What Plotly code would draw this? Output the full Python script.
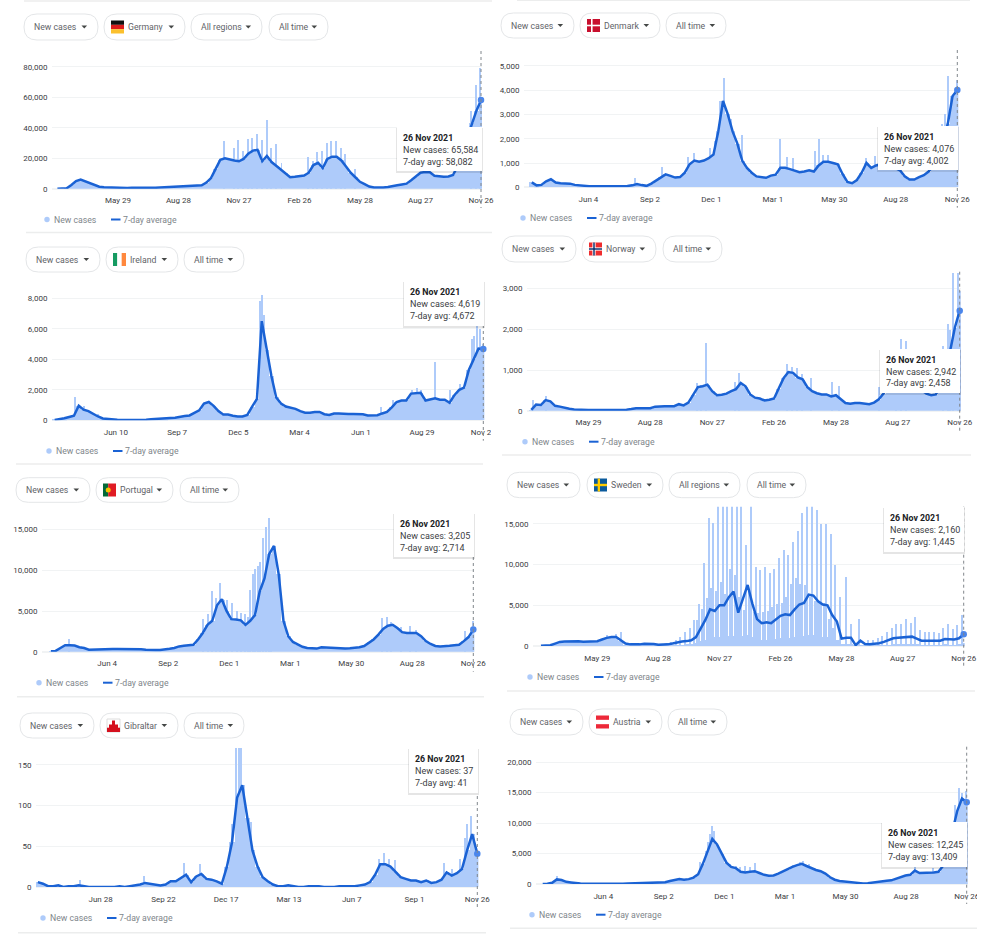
import pandas as pd
import plotly.graph_objects as go

W, H = 1000, 942
END = pd.Timestamp("2021-11-26")

BAR = "#aecbfa"
LINE = "#1a62d4"
DOT = "#4a86ec"
GRID = "#f1f3f4"
PILL = "#e4e6e8"
GRAY = "#5f6368"
DARK = "#3c4043"
FONT = "Roboto"

# ---- data ----
# weekly 7-day averages ending 26 Nov 2021, *_base = weekly level of the bars,
# spikes = single days sticking out, given as days before 26 Nov 2021

de_avg = [0, 0, 300, 2500, 5000, 6000, 4800, 3300, 2200, 1300, 900, 750, 600, 500, 400, 500, 650, 550, 400, 400,
          450, 600, 750, 900, 1100, 1300, 1300, 1200, 1400, 1600, 1900, 2200, 4000, 7000, 13000, 19000, 20000, 19000,
          18500, 18000, 19500, 23000, 25000, 25500, 18000, 21500, 17500, 15000, 12500, 10000, 7500, 7800, 8200, 8600,
          10500, 15500, 17000, 13500, 19500, 21000, 21000, 18500, 14500, 10500, 7500, 4500, 3000, 1400, 800, 700, 800,
          1100, 1500, 2200, 2800, 3300, 5500, 8000, 10500, 11000, 10800, 8500, 8000, 7800, 8000, 9000, 15000, 24000,
          34000, 43000, 51000, 58082]
de_spike_days = [386, 372, 365, 358, 351, 344, 337, 330, 322, 316, 309, 300, 260, 253, 246, 239, 232, 225, 218, 211,
                 204, 190, 15, 8, 1]
de_spike_vals = [31000, 27000, 32000, 25000, 32500, 33500, 36000, 32000, 45000, 26500, 29000, 17000, 21000, 18000,
                 24000, 25000, 30000, 31000, 31500, 27000, 23000, 13000, 51000, 68000, 79000]
de_ticks = ["2020-05-29", "2020-08-28", "2020-11-27", "2021-02-26", "2021-05-28", "2021-08-27", "2021-11-26"]
de_labels = ["May 29", "Aug 28", "Nov 27", "Feb 26", "May 28", "Aug 27", "Nov 26"]

dk_avg = [200, 80, 100, 250, 330, 200, 170, 170, 150, 100, 70, 50, 40, 40, 40, 30, 20, 20, 30, 40, 50, 80, 130, 90, 60,
          150, 280, 420, 530, 470, 400, 420, 600, 950, 1100, 1050, 1100, 1200, 1350, 2300, 3550, 3000, 2300, 1800, 1100,
          800, 600, 450, 430, 390, 480, 520, 800, 800, 750, 700, 620, 650, 700, 650, 900, 1050, 1050, 1000, 950, 550,
          220, 170, 300, 600, 1000, 800, 900, 950, 1050, 1000, 800, 700, 450, 320, 320, 420, 500, 650, 900, 1300, 1900,
          2600, 3750, 4002]
dk_spike_days = [342, 348, 355, 331, 315, 260, 249, 241, 209, 203, 197, 189, 134, 120, 14, 1, 18, 22, 433, 472, 394,
                 385, 362]
dk_spike_vals = [4500, 3550, 1900, 2800, 2150, 2000, 1250, 1200, 1500, 2000, 1350, 1350, 1200, 1300, 4600, 4400, 3000,
                 2600, 820, 370, 1250, 1400, 1600]
dk_ticks = ["2020-06-04", "2020-09-02", "2020-12-01", "2021-03-01", "2021-05-30", "2021-08-28", "2021-11-26"]
dk_labels = ["Jun 4", "Sep 2", "Dec 1", "Mar 1", "May 30", "Aug 28", "Nov 26"]

ie_avg = [20, 60, 130, 220, 300, 950, 700, 600, 400, 250, 120, 80, 50, 30, 20, 20, 20, 20, 30, 40, 70, 100, 110, 120,
          150, 170, 250, 280, 320, 470, 650, 1100, 1200, 950, 600, 380, 380, 300, 250, 250, 350, 900, 1400, 6500, 4600,
          2900, 1500, 1100, 900, 850, 750, 600, 500, 500, 550, 550, 400, 350, 450, 450, 420, 420, 420, 420, 400, 320,
          320, 330, 450, 550, 850, 1200, 1300, 1300, 1750, 1800, 1800, 1300, 1400, 1450, 1350, 1350, 1150, 1650, 2000,
          2150, 3300, 4000, 4700, 4672]
ie_spike_days = [593, 581, 560, 321, 324, 319, 148, 131, 104, 97, 90, 70, 48, 34, 17, 14, 9, 5, 1]
ie_spike_vals = [1500, 950, 400, 8200, 7800, 6900, 850, 1350, 2000, 2100, 2000, 3800, 2000, 2400, 5300, 5500, 6200,
                 6000, 5000]
ie_ticks = ["2020-06-10", "2020-09-07", "2020-12-05", "2021-03-04", "2021-06-01", "2021-08-29", "2021-11-26"]
ie_labels = ["Jun 10", "Sep 7", "Dec 5", "Mar 4", "Jun 1", "Aug 29", "Nov 26"]

pt_avg = [50, 100, 450, 800, 780, 750, 550, 450, 250, 280, 250, 250, 280, 320, 340, 340, 340, 340, 370, 300, 250, 200,
          200, 220, 250, 350, 450, 650, 720, 780, 850, 1500, 2300, 3300, 3800, 5700, 6450, 5000, 4000, 3950, 3850, 3300,
          3800, 4500, 7400, 9000, 12000, 13000, 9500, 3800, 1900, 1200, 850, 600, 450, 400, 380, 550, 500, 450, 400, 350,
          380, 420, 470, 550, 700, 1150, 1500, 2100, 2800, 3200, 3300, 2900, 2400, 2300, 2300, 2300, 1900, 1300, 950,
          700, 650, 650, 720, 800, 850, 1300, 1800, 2714]
pt_spike_days = [386, 374, 364, 356, 349, 342, 337, 329, 322, 317, 310, 306, 302, 298, 135, 127, 121, 106, 93, 84, 596,
                 12, 1, 380, 368, 333, 325, 314, 392, 398]
pt_spike_vals = [7500, 8400, 6400, 6000, 5000, 4700, 4600, 7600, 10100, 10500, 14000, 15300, 16400, 11700, 4100, 4300,
                 3600, 3000, 3100, 2700, 1500, 2600, 3800, 6600, 6300, 4300, 9500, 11000, 4600, 4000]

gi_avg = [6, 4, 1, 1, 2, 0, 1, 1, 2, 1, 0, 0, 0, 0, 0, 0, 1, 0, 1, 2, 3, 5, 4, 3, 2, 3, 7, 7, 11, 15, 6, 13, 16, 10, 9,
          7, 4, 25, 55, 110, 125, 85, 45, 25, 12, 7, 3, 1, 1, 2, 1, 0, 0, 1, 1, 1, 0, 0, 0, 1, 1, 1, 1, 2, 3, 6, 15, 28,
          28, 25, 18, 12, 10, 8, 8, 6, 8, 5, 6, 9, 18, 14, 17, 22, 45, 65, 41]
gi_spike_days = [330, 324, 327, 336, 316, 310, 402, 380, 457, 544, 128, 135, 121, 113, 46, 35, 14, 9, 17, 5, 24]
gi_spike_vals = [200, 200, 200, 77, 85, 80, 30, 28, 13, 8, 42, 35, 35, 33, 29, 22, 78, 87, 60, 55, 35]
gi_ticks = ["2020-06-28", "2020-09-22", "2020-12-17", "2021-03-13", "2021-06-07", "2021-09-01", "2021-11-26"]
gi_labels = ["Jun 28", "Sep 22", "Dec 17", "Mar 13", "Jun 7", "Sep 1", "Nov 26"]

no_avg = [20, 150, 140, 260, 230, 120, 100, 70, 50, 30, 20, 15, 15, 15, 15, 15, 15, 15, 15, 15, 25, 40, 60, 60, 60, 60,
          100, 110, 110, 110, 110, 160, 130, 200, 400, 580, 600, 640, 480, 380, 390, 420, 480, 530, 680, 600, 400, 320,
          300, 250, 270, 300, 550, 800, 950, 930, 820, 770, 580, 480, 430, 400, 400, 350, 380, 280, 190, 170, 190, 190,
          170, 160, 200, 280, 420, 600, 800, 1000, 1050, 1000, 850, 650, 500, 420, 380, 400, 600, 900, 1500, 2050, 2458]
no_spike_days = [627, 609, 373, 387, 380, 325, 331, 254, 246, 239, 232, 218, 188, 178, 119, 86, 79, 93, 24, 17, 10, 3,
                 14, 0]
no_spike_vals = [280, 380, 1680, 700, 650, 930, 720, 1150, 1080, 1050, 920, 820, 720, 620, 600, 1780, 1710, 1500, 1600,
                 2130, 3400, 3400, 2000, 2942]

se_avg = [30, 60, 100, 300, 500, 550, 570, 600, 580, 520, 560, 530, 580, 800, 1000, 1100, 1100, 700, 300, 200, 170, 200,
          280, 300, 250, 150, 150, 200, 300, 450, 550, 600, 700, 1100, 2200, 3200, 4500, 4300, 5000, 5000, 6000, 6700,
          4100, 5900, 7500, 5200, 3300, 2800, 2900, 2800, 3300, 3700, 3900, 3800, 4500, 5100, 5300, 6300, 6200, 5500,
          5100, 5000, 3800, 3000, 900, 1000, 1000, 100, 650, 250, 230, 250, 350, 500, 750, 950, 1000, 1050, 1050, 1150,
          900, 650, 650, 650, 650, 650, 850, 800, 800, 950, 1445]
# Sweden reported in weekly batches, so the bars are much lower than the average most days
se_base = [30, 60, 100, 300, 500, 550, 570, 600, 580, 520, 560, 530, 580, 800, 1000, 1100, 1100, 700, 150, 80, 60, 80,
           100, 100, 80, 50, 50, 60, 100, 150, 200, 250, 300, 400, 600, 800, 1000, 1100, 1200, 1200, 1300, 1300, 1100,
           1300, 1400, 1200, 900, 800, 800, 800, 900, 1000, 1000, 1000, 1100, 1200, 1300, 1400, 1400, 1300, 1200, 1200,
           1000, 800, 300, 300, 300, 50, 150, 80, 70, 80, 100, 150, 200, 250, 250, 300, 300, 300, 250, 200, 200, 200,
           200, 200, 250, 200, 200, 250, 400]
se_spike_days = [387, 380, 373, 366, 359, 352, 345, 338, 331, 324, 317, 310, 303, 296, 289, 282, 275, 268, 261, 254,
                 247, 240, 233, 226, 219, 212, 205, 198, 191, 184, 175, 168, 156, 142, 135, 128, 121, 114, 107, 100, 93,
                 86, 79, 72, 65, 58, 51, 44, 37, 30, 23, 16, 9, 2, 394, 401, 408, 415, 422, 429, 436, 532, 525, 518, 511,
                 397, 390, 383, 376, 369, 362, 355, 348, 341, 334, 327, 320, 313, 306, 299, 292, 285, 278, 271, 264, 257,
                 250, 243, 236, 229, 222, 215, 208, 201, 194]
se_spike_vals = [10200, 15800, 15100, 19000, 19000, 19000, 19000, 19000, 19000, 12500, 19000, 9800, 9400, 9700, 9000,
                 9500, 10900, 11800, 11200, 12800, 14200, 16400, 19000, 19000, 16700, 15000, 15000, 13800, 10000, 6000,
                 8500, 2700, 3400, 800, 800, 1000, 1300, 1800, 2200, 2800, 2800, 3400, 2900, 3600, 2000, 1700, 1800,
                 1700, 1600, 2300, 2700, 2100, 2600, 3800, 5200, 3200, 2200, 1800, 1200, 800, 500, 1400, 1300, 1500, 1700,
                 3200, 4600, 5900, 7200, 6800, 7900, 6400, 9500, 8800, 6000, 4500, 7000, 4200, 4100, 4200, 4300, 4800,
                 5200, 5300, 6000, 7600, 8400, 7600, 7500, 6000, 5600, 5500, 5300, 3400, 2300]

at_avg = [0, 30, 200, 750, 650, 350, 250, 100, 70, 50, 40, 50, 40, 40, 40, 40, 40, 60, 70, 90, 100, 100, 100, 120, 220,
          280, 280, 500, 700, 800, 700, 800, 1050, 1600, 3300, 5500, 7400, 6500, 5000, 3500, 2800, 2600, 2000, 1900, 2000,
          2100, 1800, 1500, 1350, 1400, 1700, 2100, 2400, 2800, 3100, 3300, 2950, 2600, 2300, 2100, 1700, 1100, 700, 500,
          400, 300, 200, 130, 100, 130, 250, 400, 450, 550, 600, 900, 1150, 1400, 1500, 2200, 1800, 1800, 1900, 1900, 2000,
          3000, 5500, 9000, 12000, 14000, 13409]
at_spike_days = [609, 396, 385, 378, 376, 381, 367, 352, 343, 337, 329, 322, 315, 258, 248, 243, 235, 77, 50, 12, 7, 1,
                 17]
at_spike_vals = [1300, 3700, 7000, 9600, 8800, 8200, 5500, 3300, 3000, 2900, 3000, 2900, 3500, 3200, 3600, 3900, 3300,
                 2800, 2600, 15800, 15000, 15300, 13000]


# ---- helpers, everything placed in pixels of the 1000x942 page ----
def px(x):
    return x / W


def py(y):
    return 1 - y / H


shapes = []
annotations = []


def rect(x0, y0, x1, y1, fill, line=None, opacity=1):
    shapes.append(dict(type="rect", xref="paper", yref="paper", x0=px(x0), x1=px(x1), y0=py(y0), y1=py(y1),
                       fillcolor=fill, opacity=opacity, line=dict(width=1 if line else 0, color=line or fill)))


def hline(x0, x1, y, color, width=1):
    shapes.append(dict(type="line", xref="paper", yref="paper", x0=px(x0), x1=px(x1), y0=py(y), y1=py(y),
                       line=dict(color=color, width=width)))


def text(x, y, s, size=8.7, color=GRAY, anchor="left"):
    annotations.append(dict(xref="paper", yref="paper", x=px(x), y=py(y), text=s, showarrow=False, xanchor=anchor,
                            yanchor="middle", borderpad=0, font=dict(family=FONT, size=size, color=color)))


def poly(points, fill):
    d = "M" + " L".join(f"{px(x):.5f},{py(y):.5f}" for x, y in points) + " Z"
    shapes.append(dict(type="path", xref="paper", yref="paper", path=d, fillcolor=fill, line=dict(width=0)))


def pill(x0, x1, y0, y1):
    r = (y1 - y0) / 2
    p = lambda x, y: f"{px(x):.5f},{py(y):.5f}"
    d = (f"M{p(x0 + r, y0)} L{p(x1 - r, y0)} Q{p(x1, y0)} {p(x1, y0 + r)} Q{p(x1, y1)} {p(x1 - r, y1)} "
         f"L{p(x0 + r, y1)} Q{p(x0, y1)} {p(x0, y0 + r)} Q{p(x0, y0)} {p(x0 + r, y0)} Z")
    shapes.append(dict(type="path", xref="paper", yref="paper", path=d, fillcolor="white",
                       line=dict(color=PILL, width=1)))


def flag(name, x, y):
    s = 13
    if name == "Germany":
        rect(x, y, x + s, y + s / 3, "#111111")
        rect(x, y + s / 3, x + s, y + 2 * s / 3, "#dd1c1c")
        rect(x, y + 2 * s / 3, x + s, y + s, "#fbc02d")
    elif name == "Denmark":
        rect(x, y, x + s, y + s, "#c8102e")
        rect(x + 4, y, x + 5.6, y + s, "white")
        rect(x, y + 5.7, x + s, y + 7.3, "white")
    elif name == "Ireland":
        rect(x, y, x + s / 3, y + s, "#169b62")
        rect(x + s / 3, y, x + 2 * s / 3, y + s, "white")
        rect(x + 2 * s / 3, y, x + s, y + s, "#ff883e")
    elif name == "Portugal":
        rect(x, y, x + 5.2, y + s, "#046a38")
        rect(x + 5.2, y, x + s, y + s, "#e01b24")
        shapes.append(dict(type="circle", xref="paper", yref="paper", x0=px(x + 2.7), x1=px(x + 7.7),
                           y0=py(y + 4), y1=py(y + 9), fillcolor="#f5c400", line=dict(width=0)))
    elif name == "Gibraltar":
        rect(x, y, x + s, y + s, "white", line="#dddddd")
        rect(x, y + 8.7, x + s, y + s, "#d5101e")
        rect(x + 2, y + 5.5, x + 11, y + 9, "#d5101e")
        rect(x + 5, y + 1.5, x + 8, y + 6, "#d5101e")
    elif name == "Norway":
        rect(x, y, x + s, y + s, "#ef2b2d")
        rect(x + 3.4, y, x + 6.6, y + s, "white")
        rect(x, y + 4.9, x + s, y + 8.1, "white")
        rect(x + 4.3, y, x + 5.7, y + s, "#002868")
        rect(x, y + 5.8, x + s, y + 7.2, "#002868")
    elif name == "Sweden":
        rect(x, y, x + s, y + s, "#0a5a9c")
        rect(x + 3.7, y, x + 6, y + s, "#fecb00")
        rect(x, y + 5.3, x + s, y + 7.7, "#fecb00")
    elif name == "Austria":
        rect(x, y, x + s, y + s, "white")
        rect(x, y, x + s, y + s / 3, "#ed2939")
        rect(x, y + 2 * s / 3, x + s, y + s, "#ed2939")


def draw_pills(items, y0, y1):
    for x0, x1, label, country in items:
        pill(x0, x1, y0, y1)
        mid = (y0 + y1) / 2
        if country:
            flag(country, x0 + 7, mid - 6.5)
            text(x0 + 23, mid, label)
        else:
            text(x0 + 8.7, mid, label)
        cx = x1 - 13.7
        poly([(cx - 2.8, mid - 1.4), (cx + 2.8, mid - 1.4), (cx, mid + 1.6)], "#444746")


def draw_legend(x, y):
    shapes.append(dict(type="circle", xref="paper", yref="paper", x0=px(x - 2.7), x1=px(x + 2.7), y0=py(y - 2.7),
                       y1=py(y + 2.7), fillcolor=BAR, line=dict(width=0)))
    text(x + 6, y, "New cases", color="#80868b")
    hline(x + 64, x + 73.5, y, LINE, 2)
    text(x + 75, y, "7-day average", color="#80868b")


def draw_tooltip(x0, y0, x1, y1, cases, avg):
    rect(x0 - 1, y0 + 1, x1 + 1, y1 + 2, "#000000", opacity=0.10)
    rect(x0, y0, x1, y1, "white")
    text(x0 + 5, y0 + 11, "<b>26 Nov 2021</b>", size=8.8, color="#202124")
    text(x0 + 5, y0 + 23, f"New cases: {cases}", size=9, color=DARK)
    text(x0 + 5, y0 + 34.5, f"7-day avg: {avg}", size=9, color=DARK)


fig = go.Figure()

# end = x of 26 Nov, ppd = px per day, zero/top = y of value 0 and of the plot top, unit = px per tick step
panels = [
    dict(avg=de_avg, base=de_avg, days=de_spike_days, vals=de_spike_vals, ticks=de_ticks, labels=de_labels,
         yticks=[0, 20000, 40000, 60000, 80000], left=52, end=481, ppd=0.665, zero=188.7, top=51, bottom=208, unit=30.5,
         pills=[(24, 98, "New cases", None), (104, 185, "Germany", "Germany"), (191, 262, "All regions", None),
                (269, 328, "All time", None)], pill_y=(14, 40), legend=(47, 219.5), sep=(26, 492, 232.5),
         tip=(397, 127, 482, 171, "65,584", "58,082")),
    dict(avg=dk_avg, base=dk_avg, days=dk_spike_days, vals=dk_spike_vals, ticks=dk_ticks, labels=dk_labels,
         yticks=[0, 1000, 2000, 3000, 4000, 5000], left=524, end=957.3, ppd=0.683, zero=187.3, top=50, bottom=207.7,
         unit=24.3, pills=[(501, 574, "New cases", None), (580, 660, "Denmark", "Denmark"), (666, 726, "All time", None)],
         pill_y=(13, 38), legend=(523, 218), sep=None, tip=(878, 126, 958, 170, "4,076", "4,002")),
    dict(avg=ie_avg, base=ie_avg, days=ie_spike_days, vals=ie_spike_vals, ticks=ie_ticks, labels=ie_labels,
         yticks=[0, 2000, 4000, 6000, 8000], left=52, end=483.3, ppd=0.688, zero=420.3, top=283, bottom=440.7, unit=30.5,
         pills=[(26, 100, "New cases", None), (106, 178, "Ireland", "Ireland"), (184, 244, "All time", None)],
         pill_y=(247, 272), legend=(49, 451), sep=(16, 483, 464), tip=(404, 281, 484, 326, "4,619", "4,672")),
    dict(avg=no_avg, base=no_avg, days=no_spike_days, vals=no_spike_vals, ticks=de_ticks, labels=de_labels,
         yticks=[0, 1000, 2000, 3000], left=527, end=959.7, ppd=0.68, zero=410.7, top=271.7, bottom=430.7, unit=40.7,
         pills=[(502, 576, "New cases", None), (582, 656, "Norway", "Norway"), (663, 722, "All time", None)],
         pill_y=(236, 262), legend=(525, 441.7), sep=(502, 971, 455), tip=(880, 349, 960, 393, "2,942", "2,458")),
    dict(avg=pt_avg, base=pt_avg, days=pt_spike_days, vals=pt_spike_vals, ticks=dk_ticks, labels=dk_labels,
         yticks=[0, 5000, 10000, 15000], left=42, end=473.3, ppd=0.678, zero=651.7, top=515, bottom=671.7, unit=40.7,
         pills=[(16, 90, "New cases", None), (96, 173, "Portugal", "Portugal"), (180, 239, "All time", None)],
         pill_y=(477.7, 502.3), legend=(39, 682.7), sep=(17, 484, 696.7), tip=(394, 513, 474, 557, "3,205", "2,714")),
    dict(avg=se_avg, base=se_base, days=se_spike_days, vals=se_spike_vals, ticks=de_ticks, labels=de_labels,
         yticks=[0, 5000, 10000, 15000], left=533, end=963.7, ppd=0.671, zero=646, top=506.7, bottom=666.7, unit=40.7,
         pills=[(507, 580, "New cases", None), (587, 663, "Sweden", "Sweden"), (669, 740, "All regions", None),
                (747, 806, "All time", None)], pill_y=(472.3, 497.7), legend=(530, 677), sep=(507, 975, 691),
         tip=(884, 507, 964, 552, "2,160", "1,445"), spike_w=2.0),
    dict(avg=gi_avg, base=gi_avg, days=gi_spike_days, vals=gi_spike_vals, ticks=gi_ticks, labels=gi_labels,
         yticks=[0, 50, 100, 150], left=36, end=477.3, ppd=0.73, zero=887, top=748, bottom=907.3, unit=40.7,
         pills=[(20, 94, "New cases", None), (100, 178, "Gibraltar", "Gibraltar"), (184, 244, "All time", None)],
         pill_y=(713, 738), legend=(43, 918), sep=(18, 486, 932.7), tip=(409, 748, 478, 793, "37", "41")),
    dict(avg=at_avg, base=at_avg, days=at_spike_days, vals=at_spike_vals, ticks=dk_ticks, labels=dk_labels,
         yticks=[0, 5000, 10000, 15000, 20000], left=536, end=966.7, ppd=0.673, zero=884, top=746.7, bottom=904, unit=30.5,
         pills=[(510, 583, "New cases", None), (589, 662, "Austria", "Austria"), (668, 727, "All time", None)],
         pill_y=(709, 735), legend=(532, 914.7), sep=(510, 977, 928.3), tip=(882, 822, 967, 867, "12,245", "13,409")),
]

axes = {}
for n, p in enumerate(panels, start=1):
    suffix = "" if n == 1 else str(n)
    dates = pd.date_range(end=END, periods=len(p["avg"]), freq="7D")
    spike_dates = [END - pd.Timedelta(days=d) for d in p["days"]]

    fig.add_trace(go.Bar(x=dates, y=p["base"], width=7 * 86400000, marker=dict(color=BAR, line=dict(width=0)),
                         name="New cases", showlegend=False, xaxis="x" + suffix, yaxis="y" + suffix))
    fig.add_trace(go.Bar(x=spike_dates, y=p["vals"], width=p.get("spike_w", 1.5) * 86400000,
                         marker=dict(color=BAR, line=dict(width=0)), name="New cases", showlegend=False,
                         xaxis="x" + suffix, yaxis="y" + suffix))
    fig.add_trace(go.Scatter(x=dates, y=p["avg"], mode="lines", line=dict(color=LINE, width=2.5),
                             name="7-day average", showlegend=False, xaxis="x" + suffix, yaxis="y" + suffix))
    fig.add_trace(go.Scatter(x=[dates[-1]], y=[p["avg"][-1]], mode="markers", marker=dict(color=DOT, size=6.5),
                             showlegend=False, cliponaxis=False, xaxis="x" + suffix, yaxis="y" + suffix))

    # one y tick step is px per 2nd tick value
    step = p["yticks"][1]
    right = p["end"] + 1.5 * p["ppd"]
    start = END - pd.Timedelta(days=(p["end"] - p["left"]) / p["ppd"])
    axes["xaxis" + suffix] = dict(
        domain=[px(p["left"]), px(right)], anchor="y" + suffix, type="date",
        range=[start, END + pd.Timedelta(days=1.5)], tickmode="array", tickvals=p["ticks"], ticktext=p["labels"],
        showgrid=False, zeroline=False, showline=False, ticks="outside", ticklen=4, tickcolor="white",
        tickfont=dict(family=FONT, size=8, color=DARK))
    axes["yaxis" + suffix] = dict(
        domain=[py(p["zero"]), py(p["top"])], anchor="x" + suffix,
        range=[0, (p["zero"] - p["top"]) / p["unit"] * step], tickmode="array", tickvals=p["yticks"],
        tickformat=",", showgrid=True, gridcolor=GRID, gridwidth=1, zeroline=True, zerolinecolor=GRID, showline=False,
        ticks="outside", ticklen=2, tickcolor="white", tickfont=dict(family=FONT, size=8, color=DARK))

    draw_pills(p["pills"], *p["pill_y"])
    draw_legend(*p["legend"])
    if p["sep"]:
        hline(p["sep"][0], p["sep"][1], p["sep"][2], "#eceded", 1.5)
    # hover cursor on the last day, then the tooltip over it
    shapes.append(dict(type="line", xref="paper", yref="paper", x0=px(p["end"]), x1=px(p["end"]), y0=py(p["top"]),
                       y1=py(p["bottom"]), line=dict(color="#80868b", width=1, dash="dot")))
    draw_tooltip(*p["tip"])

# the screenshots were cropped, cutting the last tick label of two charts
rect(491, 425, 500, 440, "white")
rect(977, 888, 1000, 903, "white")
# faint rule above the top row
hline(24, 492, 1, "#eceded", 1.5)
hline(517, 970, 0.5, "#eceded", 1)

fig.update_layout(
    width=W, height=H, margin=dict(l=0, r=0, t=0, b=0, autoexpand=False), barmode="overlay", bargap=0, showlegend=False,
    plot_bgcolor="white", paper_bgcolor="white", hovermode=False, shapes=shapes, annotations=annotations,
    font=dict(family=FONT), **axes,
)

fig.write_html("out.html", config={"displayModeBar": False},
               post_script="document.body.style.margin='0';document.documentElement.style.overflow='hidden';")
